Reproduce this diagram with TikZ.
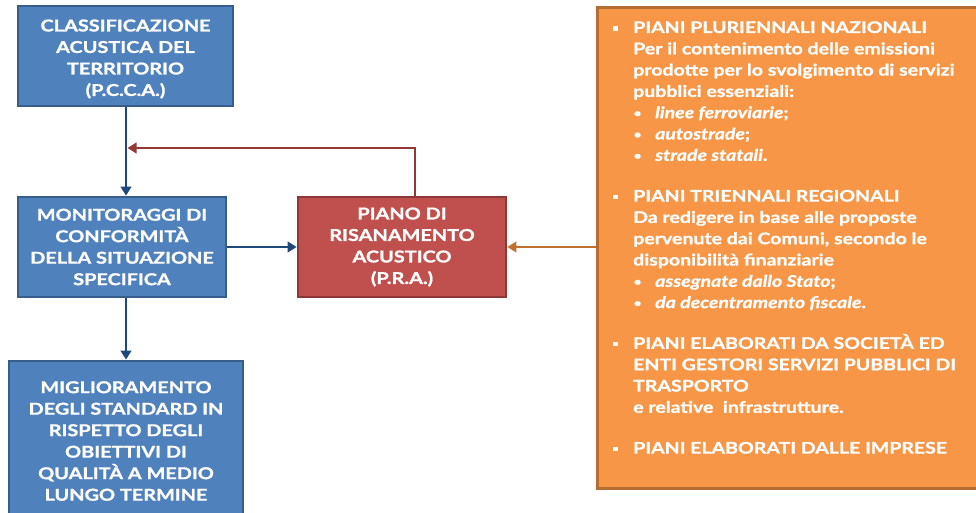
\documentclass[tikz,border=0pt]{standalone}
\usepackage{fontspec}
\setmainfont{Lato}[FakeStretch=1.22, BoldFeatures={FakeBold=1.2}, BoldItalicFeatures={FakeBold=1.2}]
\usetikzlibrary{arrows.meta}
\definecolor{bfill}{HTML}{4F81BD}
\definecolor{bdraw}{HTML}{385D8A}
\definecolor{rfill}{HTML}{C0504D}
\definecolor{rdraw}{HTML}{8C3836}
\definecolor{ofill}{HTML}{F79646}
\definecolor{odraw}{HTML}{B66D31}
\definecolor{bline}{HTML}{1F497D}
\definecolor{rline}{HTML}{953735}
\definecolor{oline}{HTML}{C0702F}
\newcommand\mainpt[1]{\makebox[20pt][l]{\rule[0.3ex]{4.5pt}{4.5pt}}#1\par}
\newcommand\contpt[1]{\hspace*{20pt}#1\par}
\newcommand\subpt[1]{\hspace*{20pt}\makebox[22pt][l]{\hspace*{0.5pt}\raisebox{1.2pt}{\fontsize{11}{11}\selectfont\textbullet}}#1\par}
\begin{document}
\begin{tikzpicture}[x=1pt,y=-1pt,
  txtfont/.style={text=white, align=center, font=\fontsize{16.3}{21.5}\selectfont\bfseries},
  boxtxt/.style={draw, line width=2.7pt, inner sep=0pt, txtfont},
  bbox/.style={boxtxt, fill=bfill, draw=bdraw},
  rbox/.style={boxtxt, fill=rfill, draw=rdraw},
  obox/.style={draw=odraw, fill=ofill, line width=2.7pt},
  conn/.style={line width=2.6pt, -{Triangle[length=9pt,width=10.5pt]}},
  bconn/.style={conn, draw=bline},
  rconn/.style={conn, draw=rline},
  oconn/.style={conn, draw=oline}]
\useasboundingbox (0,0) rectangle (976,513);
\fill[white] (0,0) rectangle (976,513);

\node[bbox, minimum width=215pt, minimum height=100pt] (b1) at (125.5,56) {};
\node[txtfont, inner sep=0pt] (b1txt) at (125.5,59)
  {CLASSIFICAZIONE\\ACUSTICA DEL\\TERRITORIO\\(P.C.C.A.)};
\node[bbox, minimum width=208pt, minimum height=100pt] (b2) at (122,247)
  {MONITORAGGI DI\\CONFORMITÀ\\DELLA SITUAZIONE\\SPECIFICA};
\node[bbox, minimum width=234pt, minimum height=160pt] (b3) at (126,441)
  {MIGLIORAMENTO\\DEGLI STANDARD IN\\RISPETTO DEGLI\\OBIETTIVI DI\\QUALITÀ A MEDIO\\LUNGO TERMINE};
\node[rbox, minimum width=208pt, minimum height=100pt] (pra) at (402,247)
  {PIANO DI\\RISANAMENTO\\ACUSTICO\\(P.R.A.)};
\node[obox, minimum width=392pt, minimum height=481pt, anchor=north west] (ob) at (596,6) {};

\node[anchor=base west, inner sep=0pt, text=white] (otext) at (613,33)
{\begin{minipage}[t]{370pt}\setlength\parindent{0pt}\fontsize{16}{21.3}\selectfont\bfseries
\mainpt{PIANI PLURIENNALI NAZIONALI}
\contpt{Per il contenimento delle emissioni}
\contpt{prodotte per lo svolgimento di servizi}
\contpt{pubblici essenziali:}
\subpt{\textit{linee ferroviarie};}
\subpt{\textit{autostrade};}
\subpt{\textit{strade statali}.}
\vspace{19.5pt}
\mainpt{PIANI TRIENNALI REGIONALI}
\contpt{Da redigere in base alle proposte}
\contpt{pervenute dai Comuni, secondo le}
\contpt{disponibilità finanziarie}
\subpt{\textit{assegnate dallo Stato};}
\subpt{\textit{da decentramento fiscale}.}
\vspace{19.5pt}
\mainpt{PIANI ELABORATI DA SOCIETÀ ED}
\contpt{ENTI GESTORI SERVIZI PUBBLICI DI}
\contpt{TRASPORTO}
\contpt{e relative\ \ infrastrutture.}
\vspace{19.5pt}
\mainpt{PIANI ELABORATI DALLE IMPRESE}
\end{minipage}};

\coordinate (j) at (126,148);
\draw[bconn] (b1.south -| j) -- (b2.north -| j);
\draw[bconn] (b2.south -| j) -- (b3.north -| j);
\draw[bconn] (b2.east) -- (pra.west);
\draw[rconn, shorten >=1.5pt] ([xshift=13pt]pra.north) |- (j);
\draw[oconn] (ob.west |- pra.east) -- (pra.east);
\end{tikzpicture}
\end{document}
